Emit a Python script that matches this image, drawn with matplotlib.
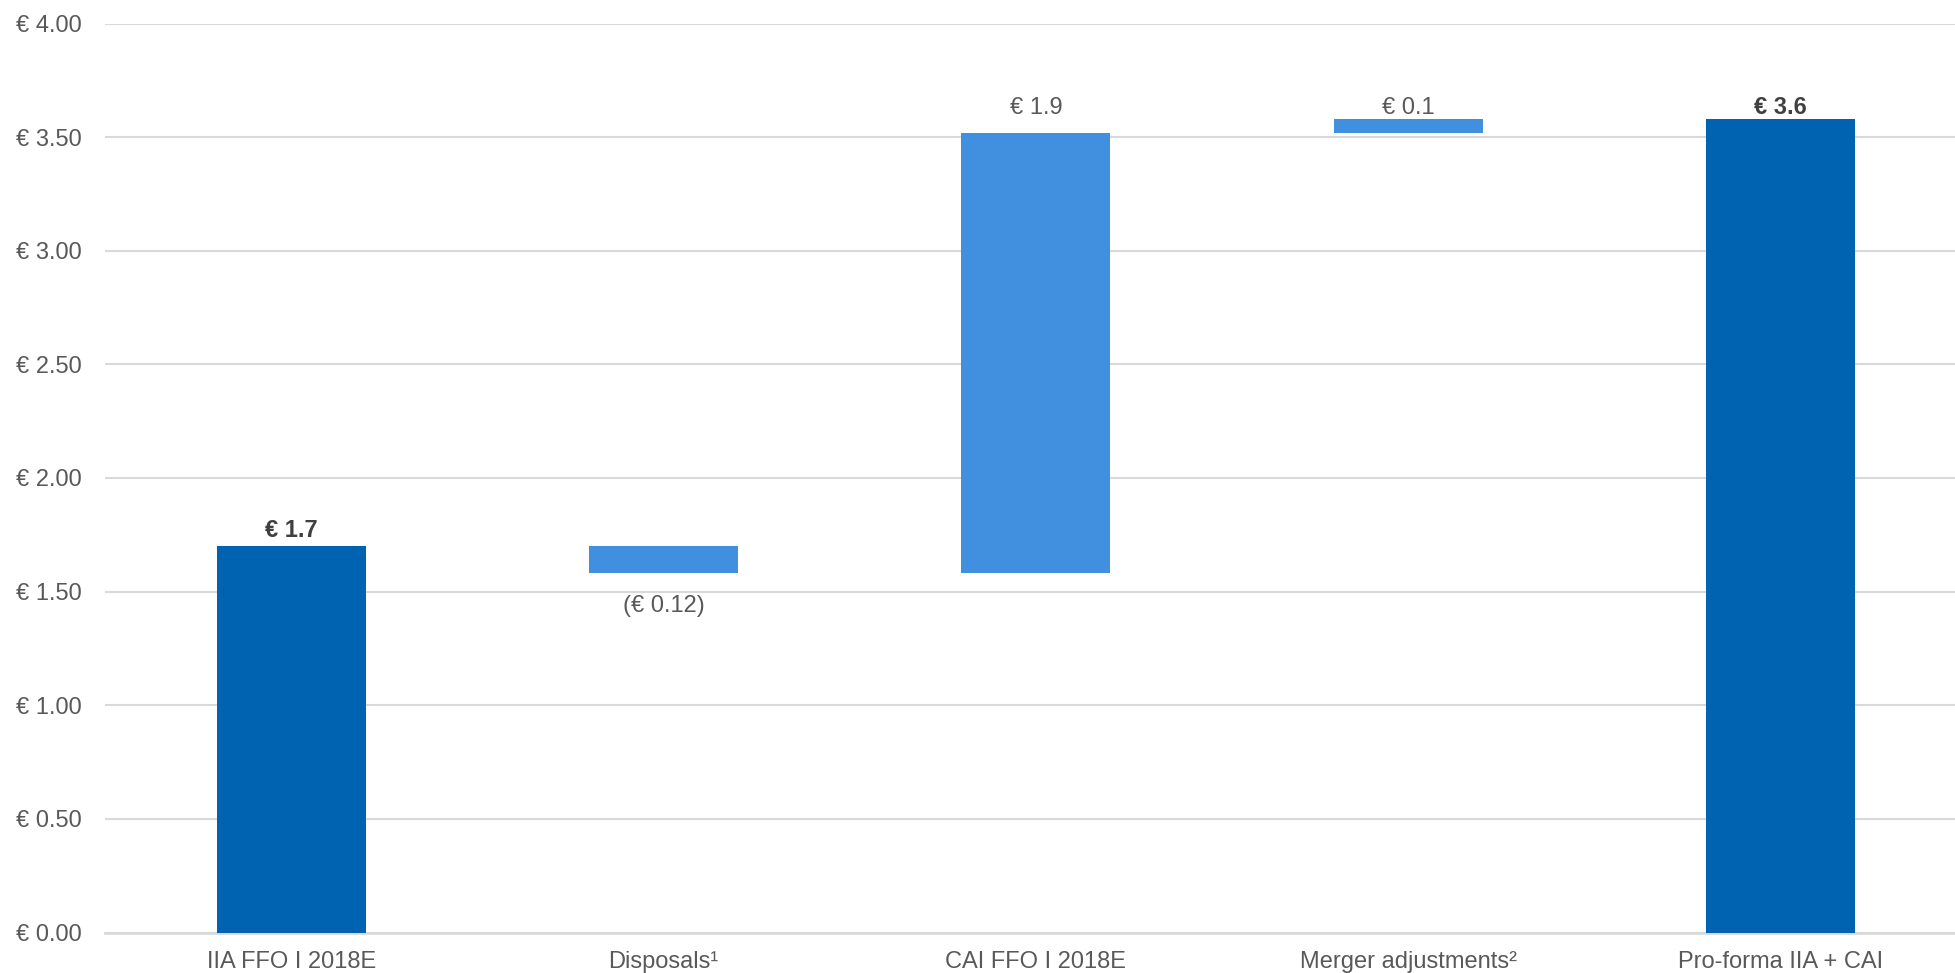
import matplotlib
matplotlib.use("Agg")
import matplotlib.pyplot as plt
import numpy as np

categories = ["IIA FFO I 2018E", "Disposals\u00b9", "CAI FFO I 2018E", "Merger adjustments\u00b2", "Pro-forma IIA + CAI"]
changes = [1.70, -0.12, 1.94, 0.06, 3.58]
is_total = [True, False, False, False, True]
value_labels = ["\u20ac 1.7", "(\u20ac 0.12)", "\u20ac 1.9", "\u20ac 0.1", "\u20ac 3.6"]
y_ticks = [0.0, 0.5, 1.0, 1.5, 2.0, 2.5, 3.0, 3.5, 4.0]

plt.rcParams['font.family'] = ['Liberation Sans', 'DejaVu Sans']

DARK = "#0063B1"
LIGHT = "#4190DF"
TEXT = "#595959"
label_offsets = [6.5, -28, 13.7, 3.5, 3.5]

fig = plt.figure(figsize=(19.56, 9.73), dpi=100)
ax = fig.add_axes([105/1956, 1-932.5/973, 1-105/1956, (932.5-23.5)/973])

x = np.arange(len(categories))
bottoms = []
heights = []
running = 0.0
for c, tot in zip(changes, is_total):
    if tot:
        bottoms.append(0.0)
        heights.append(c)
        running = c
    else:
        if c >= 0:
            bottoms.append(running)
            heights.append(c)
        else:
            bottoms.append(running + c)
            heights.append(-c)
        running += c

colors = [DARK if t else LIGHT for t in is_total]
ax.bar(x, heights, bottom=bottoms, width=0.4, color=colors, zorder=3)

for i, (b, h, c, t, lab) in enumerate(zip(bottoms, heights, changes, is_total, value_labels)):
    anchor = b + h if c >= 0 else b
    ax.annotate(lab, (x[i], anchor), xytext=(0, label_offsets[i]), textcoords="offset points",
                ha="center", va="baseline", fontsize=17,
                fontweight="bold" if t else "normal",
                color="#404040" if t else TEXT)

ax.set_xlim(-0.5, 4.471)
ax.set_ylim(0, 4.0)
ax.set_yticks(y_ticks)
ax.set_yticklabels([f"\u20ac {v:.2f}" for v in y_ticks])
ax.set_xticks(x)
ax.set_xticklabels(categories)
ax.tick_params(axis="both", length=0, labelcolor=TEXT, labelsize=17)
ax.tick_params(axis="x", pad=13.5)
ax.tick_params(axis="y", pad=16.5)

ax.grid(axis="y", color="#D9D9D9", linewidth=1.5, zorder=0)
ax.set_axisbelow(True)
for s in ["top", "right", "left"]:
    ax.spines[s].set_visible(False)
ax.spines["bottom"].set_color("#D9D9D9")
ax.spines["bottom"].set_linewidth(2)

fig.savefig("out.png", dpi=100)
